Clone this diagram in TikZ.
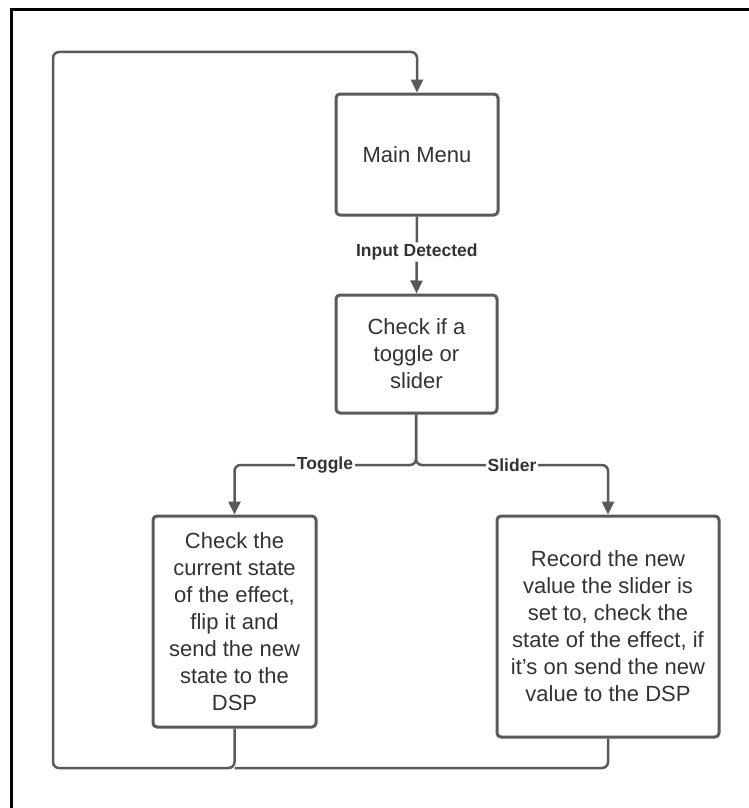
\documentclass[tikz,border=0pt]{standalone}
\usepackage{fontspec}
\setmainfont{Liberation Sans}
\usetikzlibrary{arrows.meta}
\definecolor{linegray}{HTML}{5A5A5A}
\definecolor{textgray}{HTML}{333333}
\begin{document}
\begin{tikzpicture}[x=1pt,y=-1pt,
  box/.style={draw=linegray, line width=3pt, rounded corners=4pt, fill=white,
    text=textgray, align=center, inner sep=0pt, font=\fontsize{22}{27}\selectfont},
  conn/.style={draw=linegray, line width=2.5pt, rounded corners=6pt},
  arr/.style={conn, -{Triangle[length=13pt,width=12pt]}},
  lbl/.style={fill=white, text=textgray, inner sep=1.5pt, font=\fontsize{17.5}{20}\selectfont\bfseries}]
\useasboundingbox (0,0) rectangle (748,808);
% outer frame (only top and left visible)
\draw[black, line width=3pt] (11,812) -- (11,10) -- (752,10);

\node[box, minimum width=162pt, minimum height=121pt] (main) at (417,154.5) {Main Menu};
\node[box, minimum width=161pt, minimum height=118pt] (check) at (416.5,354) {Check if a\\toggle or\\slider};
\node[box, minimum width=163pt, minimum height=211pt] (lbox) at (234.5,621.5)
  {Check the\\current state\\of the effect,\\flip it and\\send the new\\state to the\\DSP};
\node[box, minimum width=222pt, minimum height=221pt] (rbox) at (608,626.5)
  {Record the new\\value the slider is\\set to, check the\\state of the effect, if\\it{\char"0027}s on send the new\\value to the DSP};

\coordinate (split) at (416,465);
\coordinate (lb) at (53,768);
\coordinate (lt) at (53,52);

% main -> check
\draw[arr] (main.south) -- (check.north) node[lbl, pos=0.46] (inp) {Input Detected};

% branches
\draw[arr] (check.south -| split) -- (split) -| (lbox.north);
\draw[arr] (check.south -| split) -- (split) -| (rbox.north);
\node[lbl] (tog) at (325,465) {Toggle};
\node[lbl] (sld) at (512,465) {Slider};

% loop back
\draw[conn] (rbox.south) |- (lbox.south |- lb);
\draw[arr] (lbox.south) -- (lbox.south |- lb) -| (lt) -| (main.north);
\end{tikzpicture}
\end{document}
